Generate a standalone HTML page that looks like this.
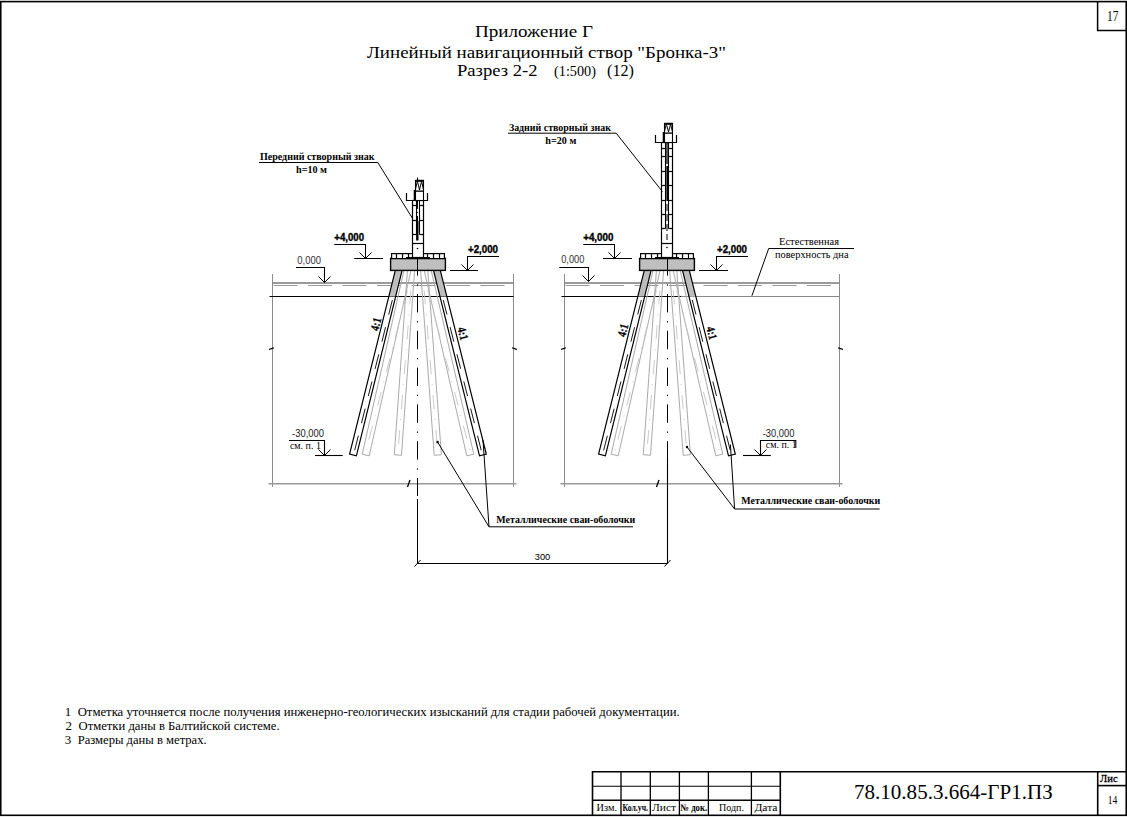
<!DOCTYPE html>
<html><head><meta charset="utf-8"><style>
html,body{margin:0;padding:0;background:#fff;width:1127px;height:817px;overflow:hidden;}
svg{display:block;}
</style></head><body>
<svg width="1127" height="817" viewBox="0 0 1127 817">
<rect width="1127" height="817" fill="#fff"/>
<rect x="0.75" y="1.6" width="1125.5" height="813.7" fill="none" stroke="#000" stroke-width="1.6"/>
<path d="M1097.6 2 V30.5 H1126" fill="none" stroke="#000" stroke-width="1.5"/>
<text x="1107" y="21" font-family='"Liberation Serif", serif' font-size="15" font-weight="normal" fill="#000" text-anchor="start" textLength="11.4" lengthAdjust="spacingAndGlyphs" >17</text>
<text x="475" y="36.8" font-family='"Liberation Serif", serif' font-size="17" font-weight="normal" fill="#000" text-anchor="start" textLength="118" lengthAdjust="spacingAndGlyphs" >Приложение Г</text>
<text x="367" y="57.8" font-family='"Liberation Serif", serif' font-size="17" font-weight="normal" fill="#000" text-anchor="start" textLength="359" lengthAdjust="spacingAndGlyphs" >Линейный навигационный створ "Бронка-3"</text>
<text x="457" y="75.5" font-family='"Liberation Serif", serif' font-size="17" font-weight="normal" fill="#000" text-anchor="start" textLength="80.5" lengthAdjust="spacingAndGlyphs" >Разрез 2-2</text>
<text x="554" y="75.5" font-family='"Liberation Serif", serif' font-size="14" font-weight="normal" fill="#000" text-anchor="start" textLength="42" lengthAdjust="spacingAndGlyphs" >(1:500)</text>
<text x="607" y="75.5" font-family='"Liberation Serif", serif' font-size="16" font-weight="normal" fill="#000" text-anchor="start" textLength="27" lengthAdjust="spacingAndGlyphs" >(12)</text>
<g>
<line x1="272.5" y1="274" x2="272.5" y2="487" stroke="#8c8c8c" stroke-width="1" />
<line x1="513.5" y1="274" x2="513.5" y2="487" stroke="#8c8c8c" stroke-width="1" />
<line x1="268.5" y1="483.8" x2="516.5" y2="483.8" stroke="#999" stroke-width="1.4" />
<line x1="272.5" y1="283" x2="513.5" y2="283" stroke="#7a7a7a" stroke-width="1.5" />
<line x1="273.5" y1="285.5" x2="510.5" y2="285.5" stroke="#9a9a9a" stroke-width="1" stroke-dasharray="24 10.5"/>
<line x1="269.5" y1="296.5" x2="513.5" y2="296.5" stroke="#000" stroke-width="1.2" />
<polyline points="269.0,349.5 271.5,348.6 274.0,347.8" stroke="#000" stroke-width="1.2" fill="none" />
<polyline points="512.0,347.8 514.5,348.6 517.0,349.5" stroke="#000" stroke-width="1.2" fill="none" />
<line x1="407.5" y1="487" x2="410" y2="480" stroke="#000" stroke-width="1.3" />
<polygon points="395.3,270.4 402.09999999999997,270.4 395.6386240520043,296.5 388.8386240520043,296.5" stroke="#000" stroke-width="0" fill="#bdbdbd" />
<polyline points="395.30256150312607,270.4 349.6025615031261,454.15892232227986 356.3974384968739,455.84107767772014 402.0974384968739,270.4" stroke="#000" stroke-width="1.2" fill="none" />
<line x1="392.3721560130011" y1="300" x2="354.0" y2="453" stroke="#000" stroke-width="0.9" stroke-dasharray="15 13"/>
<polyline points="403.9888875826269,270.4 362.1888875826269,454.2049593767812 369.2111124173731,455.7950406232188 411.0111124173731,270.4" stroke="#aaaaaa" stroke-width="1" fill="none" />
<line x1="407.5" y1="290.4" x2="365.7" y2="452" stroke="#c4c4c4" stroke-width="0.9" stroke-dasharray="14 10 1 10"/>
<polyline points="407.409030570166,270.4 394.309030570166,454.74516955833786 401.49096942983397,455.25483044166214 414.590969429834,270.4" stroke="#aaaaaa" stroke-width="1" fill="none" />
<line x1="411.0" y1="290.4" x2="397.9" y2="452" stroke="#c4c4c4" stroke-width="0.9" stroke-dasharray="14 10 1 10"/>
<polyline points="420.6097302366288,270.4 434.20973023662884,455.26450524800566 441.3902697633712,454.73549475199434 427.79026976337116,270.4" stroke="#aaaaaa" stroke-width="1" fill="none" />
<line x1="424.2" y1="290.4" x2="437.8" y2="452" stroke="#c4c4c4" stroke-width="0.9" stroke-dasharray="14 10 1 10"/>
<polyline points="424.19219169549933,270.4 466.79219169549935,455.80949422411555 473.80780830450067,454.19050577588445 431.20780830450065,270.4" stroke="#aaaaaa" stroke-width="1" fill="none" />
<line x1="427.7" y1="290.4" x2="470.3" y2="452" stroke="#c4c4c4" stroke-width="0.9" stroke-dasharray="14 10 1 10"/>
<polygon points="433.5,270.4 440.29999999999995,270.4 446.8037919826652,296.5 440.00379198266523,296.5" stroke="#000" stroke-width="0" fill="#bdbdbd" />
<polyline points="433.5038529253166,270.4 479.5038529253166,455.846277169206 486.29614707468335,454.153722830794 440.29614707468335,270.4" stroke="#000" stroke-width="1.2" fill="none" />
<line x1="443.2759479956663" y1="300" x2="481.9" y2="453" stroke="#000" stroke-width="0.9" stroke-dasharray="15 13"/>
<rect x="390.6" y="258.4" width="54.8" height="12" fill="#bfbfbf" stroke="#000" stroke-width="1.4"/>
<rect x="391.6" y="253.6" width="52.8" height="5" fill="#fff" stroke="#000" stroke-width="1.2"/>
<line x1="396.5" y1="253.5" x2="396.5" y2="258.5" stroke="#000" stroke-width="1.2" />
<line x1="402.5" y1="253.5" x2="402.5" y2="258.5" stroke="#000" stroke-width="1.2" />
<line x1="408.5" y1="253.5" x2="408.5" y2="258.5" stroke="#000" stroke-width="1.2" />
<line x1="427.5" y1="253.5" x2="427.5" y2="258.5" stroke="#000" stroke-width="1.2" />
<line x1="433.5" y1="253.5" x2="433.5" y2="258.5" stroke="#000" stroke-width="1.2" />
<line x1="439.5" y1="253.5" x2="439.5" y2="258.5" stroke="#000" stroke-width="1.2" />
<line x1="406" y1="257.8" x2="430" y2="257.8" stroke="#000" stroke-width="1.6" />
<line x1="417.5" y1="257.2" x2="417.5" y2="496" stroke="#000" stroke-width="1" stroke-dasharray="18.4 8.7 1.4 8.3"/>
<line x1="417.5" y1="499" x2="417.5" y2="564" stroke="#000" stroke-width="1" />
<rect x="412.5" y="200.5" width="11" height="57.0" fill="#fff" stroke="#000" stroke-width="1.2"/>
<line x1="412.5" y1="205.5" x2="416.5" y2="205.5" stroke="#000" stroke-width="1.2" />
<line x1="419.5" y1="205.5" x2="423.5" y2="205.5" stroke="#000" stroke-width="1.2" />
<line x1="412.5" y1="220.5" x2="416.5" y2="220.5" stroke="#000" stroke-width="1.2" />
<line x1="419.5" y1="220.5" x2="423.5" y2="220.5" stroke="#000" stroke-width="1.2" />
<line x1="412.5" y1="234.5" x2="416.5" y2="234.5" stroke="#000" stroke-width="1.2" />
<line x1="419.5" y1="234.5" x2="423.5" y2="234.5" stroke="#000" stroke-width="1.2" />
<line x1="412.5" y1="243.5" x2="423.5" y2="243.5" stroke="#000" stroke-width="1.2" />
<line x1="417.5" y1="201" x2="417.5" y2="221" stroke="#000" stroke-width="1" stroke-dasharray="8 3 1 3"/>
<line x1="416.5" y1="200.5" x2="416.5" y2="234.5" stroke="#000" stroke-width="1.1" />
<line x1="419.5" y1="200.5" x2="419.5" y2="234.5" stroke="#000" stroke-width="1.1" />
<line x1="417.3" y1="221" x2="417.3" y2="240.5" stroke="#000" stroke-width="2.4" />
<circle cx="417.5" cy="248.5" r="0.8" fill="#000"/>
<polyline points="406.5,193 406.5,200.5 427.5,200.5 427.5,193" stroke="#000" stroke-width="1.2" fill="none" />
<rect x="415.5" y="191" width="8" height="9.5" fill="#fff" stroke="#000" stroke-width="1.1"/>
<rect x="415.5" y="180.5" width="8" height="10.5" fill="#fff" stroke="#000" stroke-width="1.1"/>
<line x1="415.5" y1="180.8" x2="423.5" y2="180.8" stroke="#000" stroke-width="2" />
<polyline points="415.3,190 417.4,181 419.5,190 421.6,181 423.5,190" stroke="#000" stroke-width="1" fill="none" />
<line x1="414.5" y1="190" x2="414.5" y2="200.5" stroke="#000" stroke-width="1.6" />
<line x1="417.5" y1="177.5" x2="417.5" y2="181" stroke="#000" stroke-width="1" />
<line x1="564.5" y1="274" x2="564.5" y2="487" stroke="#8c8c8c" stroke-width="1" />
<line x1="839.5" y1="274" x2="839.5" y2="487" stroke="#8c8c8c" stroke-width="1" />
<line x1="560.5" y1="483.8" x2="842.5" y2="483.8" stroke="#999" stroke-width="1.4" />
<line x1="564.5" y1="283" x2="839.5" y2="283" stroke="#7a7a7a" stroke-width="1.5" />
<line x1="565.5" y1="285.5" x2="836.5" y2="285.5" stroke="#9a9a9a" stroke-width="1" stroke-dasharray="24 10.5"/>
<line x1="561.5" y1="296.5" x2="681" y2="296.5" stroke="#000" stroke-width="1.2" />
<line x1="681" y1="296.5" x2="839.5" y2="296.5" stroke="#888" stroke-width="1.2" />
<polyline points="561.0,349.5 563.5,348.6 566.0,347.8" stroke="#000" stroke-width="1.2" fill="none" />
<polyline points="838.0,347.8 840.5,348.6 843.0,349.5" stroke="#000" stroke-width="1.2" fill="none" />
<line x1="656.5" y1="487" x2="659" y2="480" stroke="#000" stroke-width="1.3" />
<polygon points="644.3000000000001,270.4 651.1,270.4 644.6386240520044,296.5 637.8386240520044,296.5" stroke="#000" stroke-width="0" fill="#bdbdbd" />
<polyline points="644.3025615031262,270.4 598.6025615031261,454.15892232227986 605.3974384968739,455.84107767772014 651.0974384968739,270.4" stroke="#000" stroke-width="1.2" fill="none" />
<line x1="641.3721560130011" y1="300" x2="603.0" y2="453" stroke="#000" stroke-width="0.9" stroke-dasharray="15 13"/>
<polyline points="652.9888875826268,270.4 611.1888875826269,454.2049593767812 618.2111124173732,455.7950406232188 660.0111124173732,270.4" stroke="#aaaaaa" stroke-width="1" fill="none" />
<line x1="656.5" y1="290.4" x2="614.7" y2="452" stroke="#c4c4c4" stroke-width="0.9" stroke-dasharray="14 10 1 10"/>
<polyline points="656.409030570166,270.4 643.309030570166,454.74516955833786 650.490969429834,455.25483044166214 663.590969429834,270.4" stroke="#aaaaaa" stroke-width="1" fill="none" />
<line x1="660.0" y1="290.4" x2="646.9" y2="452" stroke="#c4c4c4" stroke-width="0.9" stroke-dasharray="14 10 1 10"/>
<polyline points="669.6097302366288,270.4 683.2097302366287,455.26450524800566 690.3902697633712,454.73549475199434 676.7902697633713,270.4" stroke="#aaaaaa" stroke-width="1" fill="none" />
<line x1="673.2" y1="290.4" x2="686.8" y2="452" stroke="#c4c4c4" stroke-width="0.9" stroke-dasharray="14 10 1 10"/>
<polyline points="673.1921916954994,270.4 715.7921916954994,455.80949422411555 722.8078083045006,454.19050577588445 680.2078083045006,270.4" stroke="#aaaaaa" stroke-width="1" fill="none" />
<line x1="676.7" y1="290.4" x2="719.3" y2="452" stroke="#c4c4c4" stroke-width="0.9" stroke-dasharray="14 10 1 10"/>
<polygon points="682.5,270.4 689.3,270.4 695.8037919826652,296.5 689.0037919826652,296.5" stroke="#000" stroke-width="0" fill="#bdbdbd" />
<polyline points="682.5038529253166,270.4 728.5038529253166,455.846277169206 735.2961470746834,454.153722830794 689.2961470746834,270.4" stroke="#000" stroke-width="1.2" fill="none" />
<line x1="692.2759479956663" y1="300" x2="730.9" y2="453" stroke="#000" stroke-width="0.9" stroke-dasharray="15 13"/>
<rect x="639.6" y="258.4" width="54.8" height="12" fill="#bfbfbf" stroke="#000" stroke-width="1.4"/>
<rect x="640.6" y="253.6" width="52.8" height="5" fill="#fff" stroke="#000" stroke-width="1.2"/>
<line x1="645.5" y1="253.5" x2="645.5" y2="258.5" stroke="#000" stroke-width="1.2" />
<line x1="651.5" y1="253.5" x2="651.5" y2="258.5" stroke="#000" stroke-width="1.2" />
<line x1="657.5" y1="253.5" x2="657.5" y2="258.5" stroke="#000" stroke-width="1.2" />
<line x1="676.5" y1="253.5" x2="676.5" y2="258.5" stroke="#000" stroke-width="1.2" />
<line x1="682.5" y1="253.5" x2="682.5" y2="258.5" stroke="#000" stroke-width="1.2" />
<line x1="688.5" y1="253.5" x2="688.5" y2="258.5" stroke="#000" stroke-width="1.2" />
<line x1="655" y1="257.8" x2="679" y2="257.8" stroke="#000" stroke-width="1.6" />
<line x1="667.5" y1="257.2" x2="667.5" y2="496" stroke="#000" stroke-width="1" stroke-dasharray="18.4 8.7 1.4 8.3"/>
<line x1="667.5" y1="499" x2="667.5" y2="564" stroke="#000" stroke-width="1" />
<rect x="661.5" y="142.5" width="11" height="115.0" fill="#fff" stroke="#000" stroke-width="1.2"/>
<line x1="661.5" y1="148.5" x2="665.5" y2="148.5" stroke="#000" stroke-width="1.2" />
<line x1="668.5" y1="148.5" x2="672.5" y2="148.5" stroke="#000" stroke-width="1.2" />
<line x1="661.5" y1="156.5" x2="665.5" y2="156.5" stroke="#000" stroke-width="1.2" />
<line x1="668.5" y1="156.5" x2="672.5" y2="156.5" stroke="#000" stroke-width="1.2" />
<line x1="661.5" y1="171.5" x2="665.5" y2="171.5" stroke="#000" stroke-width="1.2" />
<line x1="668.5" y1="171.5" x2="672.5" y2="171.5" stroke="#000" stroke-width="1.2" />
<line x1="661.5" y1="185.5" x2="665.5" y2="185.5" stroke="#000" stroke-width="1.2" />
<line x1="668.5" y1="185.5" x2="672.5" y2="185.5" stroke="#000" stroke-width="1.2" />
<line x1="661.5" y1="200.5" x2="665.5" y2="200.5" stroke="#000" stroke-width="1.2" />
<line x1="668.5" y1="200.5" x2="672.5" y2="200.5" stroke="#000" stroke-width="1.2" />
<line x1="661.5" y1="214.5" x2="665.5" y2="214.5" stroke="#000" stroke-width="1.2" />
<line x1="668.5" y1="214.5" x2="672.5" y2="214.5" stroke="#000" stroke-width="1.2" />
<line x1="661.5" y1="228.5" x2="665.5" y2="228.5" stroke="#000" stroke-width="1.2" />
<line x1="668.5" y1="228.5" x2="672.5" y2="228.5" stroke="#000" stroke-width="1.2" />
<line x1="661.5" y1="243.5" x2="672.5" y2="243.5" stroke="#000" stroke-width="1.2" />
<line x1="665.5" y1="142.5" x2="665.5" y2="228.5" stroke="#000" stroke-width="1.1" />
<line x1="668.5" y1="142.5" x2="668.5" y2="228.5" stroke="#000" stroke-width="1.1" />
<line x1="667" y1="142.5" x2="667" y2="164" stroke="#000" stroke-width="1.3" />
<line x1="667.2" y1="166" x2="667.2" y2="201" stroke="#000" stroke-width="1.7" />
<line x1="667" y1="204" x2="667" y2="240" stroke="#000" stroke-width="1" stroke-dasharray="7 3"/>
<circle cx="667" cy="247.5" r="0.8" fill="#000"/>
<polyline points="655.5,135 655.5,142.5 676.5,142.5 676.5,135" stroke="#000" stroke-width="1.2" fill="none" />
<rect x="664.5" y="133" width="8" height="9.5" fill="#fff" stroke="#000" stroke-width="1.1"/>
<rect x="664.5" y="123.5" width="8" height="9.5" fill="#fff" stroke="#000" stroke-width="1.1"/>
<line x1="664.5" y1="123.8" x2="672.5" y2="123.8" stroke="#000" stroke-width="2" />
<polyline points="664.3,132 666.4,124 668.5,132 670.6,124 672.5,132" stroke="#000" stroke-width="1" fill="none" />
<line x1="663.5" y1="132" x2="663.5" y2="142.5" stroke="#000" stroke-width="1.6" />
</g>
<text x="260" y="160" font-family='"Liberation Serif", serif' font-size="10.5" font-weight="bold" fill="#000" text-anchor="start" textLength="114.5" lengthAdjust="spacingAndGlyphs" >Передний створный знак</text>
<text x="296" y="172.6" font-family='"Liberation Serif", serif' font-size="10.5" font-weight="bold" fill="#000" text-anchor="start" textLength="31" lengthAdjust="spacingAndGlyphs" >h=10 м</text>
<polyline points="259,162.5 377.8,162.5 412.6,218.5" stroke="#000" stroke-width="1" fill="none" />
<text x="334.3" y="240.9" font-family='"Liberation Sans", sans-serif' font-size="10" font-weight="bold" fill="#000" text-anchor="start" textLength="29.7" lengthAdjust="spacingAndGlyphs" stroke="#000" stroke-width="0.35">+4,000</text>
<polyline points="334.3,244.5 365.5,244.5 365.5,258.5" stroke="#000" stroke-width="1.05" fill="none" />
<polyline points="359.5,252.5 365.5,258.5 371.5,252.5" stroke="#000" stroke-width="1" fill="none" />
<line x1="354.2" y1="258.5" x2="383" y2="258.5" stroke="#000" stroke-width="1.05" />
<text x="468" y="252.6" font-family='"Liberation Sans", sans-serif' font-size="10" font-weight="bold" fill="#000" text-anchor="start" textLength="30" lengthAdjust="spacingAndGlyphs" stroke="#000" stroke-width="0.35">+2,000</text>
<polyline points="499,256.5 467.5,256.5 467.5,270.5" stroke="#000" stroke-width="1.05" fill="none" />
<polyline points="461.5,264.5 467.5,270.5 473.5,264.5" stroke="#000" stroke-width="1" fill="none" />
<line x1="450" y1="270.5" x2="478" y2="270.5" stroke="#000" stroke-width="1.05" />
<text x="297.3" y="263.5" font-family='"Liberation Sans", sans-serif' font-size="10.5" font-weight="normal" fill="#333" text-anchor="start" textLength="23.6" lengthAdjust="spacingAndGlyphs" >0,000</text>
<polyline points="296,267.5 324.5,267.5 324.5,282.5" stroke="#000" stroke-width="1.05" fill="none" />
<polyline points="318.5,276.5 324.5,282.5 330.5,276.5" stroke="#000" stroke-width="1" fill="none" />
<text x="292" y="436.9" font-family='"Liberation Sans", sans-serif' font-size="10.5" font-weight="normal" fill="#222" text-anchor="start" textLength="32" lengthAdjust="spacingAndGlyphs" >-30,000</text>
<text x="289.9" y="448.9" font-family='"Liberation Serif", serif' font-size="10.5" font-weight="normal" fill="#000" text-anchor="start" textLength="31" lengthAdjust="spacingAndGlyphs" >см. п. 1</text>
<polyline points="289,440.5 324.5,440.5 324.5,455.5" stroke="#000" stroke-width="1.1" fill="none" />
<polyline points="318.5,449.5 324.5,455.5 330.5,449.5" stroke="#000" stroke-width="1" fill="none" />
<line x1="315" y1="455.5" x2="342.7" y2="455.5" stroke="#000" stroke-width="1.1" />
<text x="0" y="0" font-family='"Liberation Serif", serif' font-size="12" font-weight="bold" fill="#000" text-anchor="middle" textLength="13" lengthAdjust="spacingAndGlyphs" transform="translate(379.8,325.1) rotate(-76)" stroke="#000" stroke-width="0.3">4:1</text>
<text x="0" y="0" font-family='"Liberation Serif", serif' font-size="12" font-weight="bold" fill="#000" text-anchor="middle" textLength="13" lengthAdjust="spacingAndGlyphs" transform="translate(459.0,334.5) rotate(76)" stroke="#000" stroke-width="0.3">4:1</text>
<text x="0" y="0" font-family='"Liberation Serif", serif' font-size="12" font-weight="bold" fill="#000" text-anchor="middle" textLength="13" lengthAdjust="spacingAndGlyphs" transform="translate(626.8000000000001,331.2) rotate(-76)" stroke="#000" stroke-width="0.3">4:1</text>
<text x="0" y="0" font-family='"Liberation Serif", serif' font-size="12" font-weight="bold" fill="#000" text-anchor="middle" textLength="13" lengthAdjust="spacingAndGlyphs" transform="translate(707.9,334) rotate(76)" stroke="#000" stroke-width="0.3">4:1</text>
<text x="496.3" y="523.4" font-family='"Liberation Serif", serif' font-size="11" font-weight="bold" fill="#000" text-anchor="start" textLength="139" lengthAdjust="spacingAndGlyphs" >Металлические сваи-оболочки</text>
<polyline points="633,526.8 489,526.8 437.6,442" stroke="#000" stroke-width="1" fill="none" />
<circle cx="437.6" cy="442" r="1.2" fill="#000"/>
<line x1="489" y1="526.8" x2="483" y2="440" stroke="#000" stroke-width="1" />
<text x="508.9" y="131" font-family='"Liberation Serif", serif' font-size="10.5" font-weight="bold" fill="#000" text-anchor="start" textLength="102" lengthAdjust="spacingAndGlyphs" >Задний створный знак</text>
<text x="545.3" y="143.7" font-family='"Liberation Serif", serif' font-size="10.5" font-weight="bold" fill="#000" text-anchor="start" textLength="31" lengthAdjust="spacingAndGlyphs" >h=20 м</text>
<polyline points="508,133.2 616.2,133.2 662.4,191.6" stroke="#000" stroke-width="1" fill="none" />
<text x="583.2" y="241" font-family='"Liberation Sans", sans-serif' font-size="10" font-weight="bold" fill="#000" text-anchor="start" textLength="30.2" lengthAdjust="spacingAndGlyphs" stroke="#000" stroke-width="0.35">+4,000</text>
<polyline points="583.2,244.5 614.5,244.5 614.5,258.5" stroke="#000" stroke-width="1.05" fill="none" />
<polyline points="608.5,252.5 614.5,258.5 620.5,252.5" stroke="#000" stroke-width="1" fill="none" />
<line x1="603" y1="258.5" x2="632" y2="258.5" stroke="#000" stroke-width="1.05" />
<text x="717" y="252.5" font-family='"Liberation Sans", sans-serif' font-size="10" font-weight="bold" fill="#000" text-anchor="start" textLength="30" lengthAdjust="spacingAndGlyphs" stroke="#000" stroke-width="0.35">+2,000</text>
<polyline points="748,256.5 716.5,256.5 716.5,270.5" stroke="#000" stroke-width="1.05" fill="none" />
<polyline points="710.5,264.5 716.5,270.5 722.5,264.5" stroke="#000" stroke-width="1" fill="none" />
<line x1="699" y1="270.5" x2="728" y2="270.5" stroke="#000" stroke-width="1.05" />
<text x="561.2" y="263.4" font-family='"Liberation Sans", sans-serif' font-size="10.5" font-weight="normal" fill="#333" text-anchor="start" textLength="23.2" lengthAdjust="spacingAndGlyphs" >0,000</text>
<polyline points="559.2,267.5 588.5,267.5 588.5,281.5" stroke="#000" stroke-width="1.05" fill="none" />
<polyline points="582.5,275.5 588.5,281.5 594.5,275.5" stroke="#000" stroke-width="1" fill="none" />
<text x="779" y="244.6" font-family='"Liberation Serif", serif' font-size="11" font-weight="normal" fill="#000" text-anchor="start" textLength="60" lengthAdjust="spacingAndGlyphs" >Естественная</text>
<text x="775" y="257.7" font-family='"Liberation Serif", serif' font-size="11" font-weight="normal" fill="#000" text-anchor="start" textLength="73.5" lengthAdjust="spacingAndGlyphs" >поверхность дна</text>
<polyline points="854,248.5 768.7,248.5 751.9,295.8" stroke="#000" stroke-width="1" fill="none" />
<text x="762.7" y="436.9" font-family='"Liberation Sans", sans-serif' font-size="10.5" font-weight="normal" fill="#222" text-anchor="start" textLength="31.7" lengthAdjust="spacingAndGlyphs" >-30,000</text>
<text x="765.8" y="448.3" font-family='"Liberation Serif", serif' font-size="10.5" font-weight="normal" fill="#000" text-anchor="start" textLength="31" lengthAdjust="spacingAndGlyphs" >см. п. 1</text>
<polyline points="795.8,447.8 795.8,440.5 760.5,440.5 760.5,455.5" stroke="#000" stroke-width="1.1" fill="none" />
<polyline points="754.5,449.5 760.5,455.5 766.5,449.5" stroke="#000" stroke-width="1" fill="none" />
<line x1="743" y1="455.5" x2="770.8" y2="455.5" stroke="#000" stroke-width="1.1" />
<text x="741.3" y="504.3" font-family='"Liberation Serif", serif' font-size="11" font-weight="bold" fill="#000" text-anchor="start" textLength="139" lengthAdjust="spacingAndGlyphs" >Металлические сваи-оболочки</text>
<polyline points="879.6,509 734.6,509 687,447" stroke="#000" stroke-width="1" fill="none" />
<circle cx="687" cy="447" r="1.2" fill="#000"/>
<line x1="734.6" y1="509" x2="730.4" y2="444.5" stroke="#000" stroke-width="1" />
<line x1="417.5" y1="563.5" x2="667.5" y2="563.5" stroke="#000" stroke-width="1.1" />
<line x1="414.5" y1="566.5" x2="420.5" y2="560" stroke="#000" stroke-width="1" />
<line x1="664.5" y1="566.5" x2="670.5" y2="560" stroke="#000" stroke-width="1" />
<line x1="667.5" y1="458" x2="667.5" y2="564" stroke="#000" stroke-width="1.1" />
<text x="534.8" y="559.9" font-family='"Liberation Sans", sans-serif' font-size="9" font-weight="normal" fill="#000" text-anchor="start" textLength="15.5" lengthAdjust="spacingAndGlyphs" >300</text>
<text x="64.8" y="716" font-family='"Liberation Serif", serif' font-size="13" font-weight="normal" fill="#000" text-anchor="start" >1</text>
<text x="77.7" y="716" font-family='"Liberation Serif", serif' font-size="13" font-weight="normal" fill="#000" text-anchor="start" textLength="602" lengthAdjust="spacingAndGlyphs" >Отметка уточняется после получения инженерно-геологических изысканий для стадии рабочей документации.</text>
<text x="65.6" y="729.8" font-family='"Liberation Serif", serif' font-size="13" font-weight="normal" fill="#000" text-anchor="start" >2</text>
<text x="78.6" y="729.8" font-family='"Liberation Serif", serif' font-size="13" font-weight="normal" fill="#000" text-anchor="start" textLength="201" lengthAdjust="spacingAndGlyphs" >Отметки даны в Балтийской системе.</text>
<text x="64.8" y="743.5" font-family='"Liberation Serif", serif' font-size="13" font-weight="normal" fill="#000" text-anchor="start" >3</text>
<text x="77.7" y="743.5" font-family='"Liberation Serif", serif' font-size="13" font-weight="normal" fill="#000" text-anchor="start" textLength="129" lengthAdjust="spacingAndGlyphs" >Размеры даны в метрах.</text>
<g stroke="#000" fill="none">
<path d="M592.5 815 V771.8 H1126" stroke-width="1.6"/>
<line x1="621" y1="771.8" x2="621" y2="815" stroke="#000" stroke-width="1.3" />
<line x1="650.3" y1="771.8" x2="650.3" y2="815" stroke="#000" stroke-width="1.3" />
<line x1="679.4" y1="771.8" x2="679.4" y2="815" stroke="#000" stroke-width="1.3" />
<line x1="708.4" y1="771.8" x2="708.4" y2="815" stroke="#000" stroke-width="1.3" />
<line x1="751.4" y1="771.8" x2="751.4" y2="815" stroke="#000" stroke-width="1.3" />
<line x1="780.3" y1="771.8" x2="780.3" y2="815" stroke="#000" stroke-width="1.6" />
<line x1="592.5" y1="786.3" x2="780.3" y2="786.3" stroke="#000" stroke-width="1.1" />
<line x1="592.5" y1="800.3" x2="780.3" y2="800.3" stroke="#000" stroke-width="1.6" />
<line x1="1097.7" y1="771.8" x2="1097.7" y2="815" stroke="#000" stroke-width="1.6" />
<line x1="1097.7" y1="785.6" x2="1126" y2="785.6" stroke="#000" stroke-width="1.6" />
</g>
<text x="596.5" y="811" font-family='"Liberation Serif", serif' font-size="10" font-weight="normal" fill="#000" text-anchor="start" textLength="20.5" lengthAdjust="spacingAndGlyphs" >Изм.</text>
<text x="622.5" y="811" font-family='"Liberation Serif", serif' font-size="10" font-weight="bold" fill="#000" text-anchor="start" textLength="25.5" lengthAdjust="spacingAndGlyphs" >Кол.уч.</text>
<text x="652" y="811" font-family='"Liberation Serif", serif' font-size="10" font-weight="normal" fill="#000" text-anchor="start" textLength="24" lengthAdjust="spacingAndGlyphs" >Лист</text>
<text x="680.3" y="811" font-family='"Liberation Serif", serif' font-size="10" font-weight="bold" fill="#000" text-anchor="start" textLength="26.8" lengthAdjust="spacingAndGlyphs" >№ док.</text>
<text x="719" y="811" font-family='"Liberation Serif", serif' font-size="10" font-weight="normal" fill="#000" text-anchor="start" textLength="25" lengthAdjust="spacingAndGlyphs" >Подп.</text>
<text x="754.5" y="811" font-family='"Liberation Serif", serif' font-size="10" font-weight="normal" fill="#000" text-anchor="start" textLength="23" lengthAdjust="spacingAndGlyphs" >Дата</text>
<text x="854" y="798.8" font-family='"Liberation Serif", serif' font-size="21" font-weight="normal" fill="#000" text-anchor="start" textLength="198.7" lengthAdjust="spacingAndGlyphs" >78.10.85.3.664-ГР1.ПЗ</text>
<text x="1100" y="781.5" font-family='"Liberation Serif", serif' font-size="10.5" font-weight="normal" fill="#000" text-anchor="start" textLength="17.6" lengthAdjust="spacingAndGlyphs" stroke="#000" stroke-width="0.3">Лис</text>
<text x="1107.7" y="803.8" font-family='"Liberation Serif", serif' font-size="12.5" font-weight="normal" fill="#000" text-anchor="start" textLength="9.6" lengthAdjust="spacingAndGlyphs" >14</text>
</svg>
</body></html>
